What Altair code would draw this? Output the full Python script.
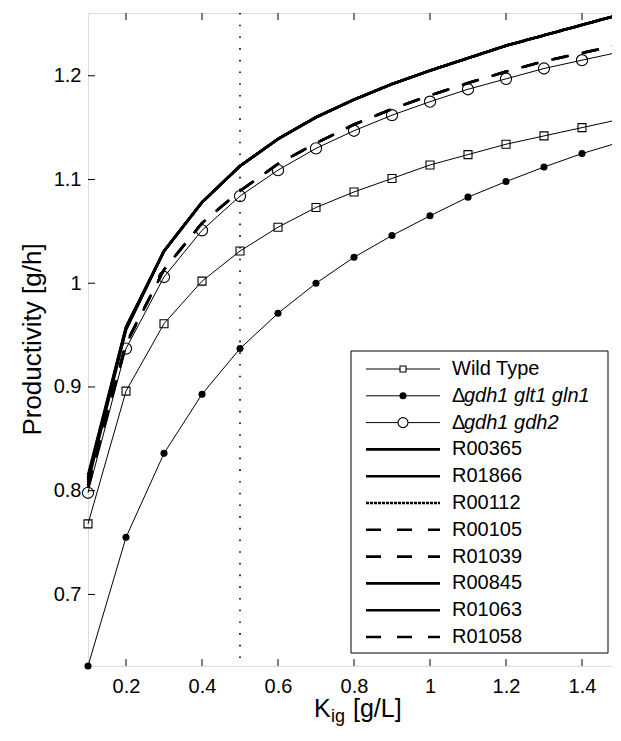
import altair as alt
import pandas as pd

# ---------------- data ----------------
k_ig = [0.1, 0.2, 0.3, 0.4, 0.5, 0.6, 0.7, 0.8, 0.9, 1.0, 1.1, 1.2, 1.3, 1.4, 1.5]

wild_type = [0.768, 0.896, 0.961, 1.002, 1.031, 1.054, 1.073, 1.088, 1.101, 1.114, 1.124, 1.134, 1.142, 1.150, 1.158]
d_gdh1_glt1_gln1 = [0.631, 0.755, 0.836, 0.893, 0.937, 0.971, 1.000, 1.025, 1.046, 1.065, 1.083, 1.098, 1.112, 1.125, 1.136]
d_gdh1_gdh2 = [0.798, 0.937, 1.006, 1.051, 1.084, 1.109, 1.130, 1.147, 1.162, 1.175, 1.187, 1.197, 1.207, 1.215, 1.223]

r00365 = [0.812, 0.957, 1.031, 1.078, 1.113, 1.139, 1.160, 1.177, 1.192, 1.205, 1.217, 1.229, 1.239, 1.249, 1.259]
r01866 = [0.815, 0.958, 1.031, 1.078, 1.113, 1.139, 1.160, 1.177, 1.192, 1.205, 1.217, 1.229, 1.239, 1.249, 1.259]
r00112 = [0.810, 0.956, 1.031, 1.078, 1.113, 1.139, 1.160, 1.177, 1.192, 1.205, 1.217, 1.229, 1.239, 1.249, 1.259]
r00105 = [0.805, 0.942, 1.013, 1.058, 1.089, 1.115, 1.135, 1.153, 1.168, 1.181, 1.193, 1.204, 1.214, 1.222, 1.230]
r01039 = [0.803, 0.941, 1.013, 1.058, 1.089, 1.115, 1.135, 1.153, 1.168, 1.181, 1.193, 1.204, 1.214, 1.222, 1.230]
r00845 = [0.808, 0.955, 1.031, 1.078, 1.113, 1.139, 1.160, 1.177, 1.192, 1.205, 1.217, 1.229, 1.239, 1.249, 1.259]
r01063 = [0.812, 0.957, 1.031, 1.078, 1.113, 1.139, 1.160, 1.177, 1.192, 1.205, 1.217, 1.229, 1.239, 1.249, 1.259]
r01058 = [0.806, 0.942, 1.013, 1.058, 1.089, 1.115, 1.135, 1.153, 1.168, 1.181, 1.193, 1.204, 1.214, 1.222, 1.230]

series_names = ["Wild Type", "\u0394gdh1 glt1 gln1", "\u0394gdh1 gdh2",
                "R00365", "R01866", "R00112", "R00105", "R01039", "R00845", "R01063", "R01058"]
series_values = [wild_type, d_gdh1_glt1_gln1, d_gdh1_gdh2,
                 r00365, r01866, r00112, r00105, r01039, r00845, r01063, r01058]

x_ticks = [0.2, 0.4, 0.6, 0.8, 1.0, 1.2, 1.4]
y_ticks = [0.7, 0.8, 0.9, 1.0, 1.1, 1.2]
reference_k = [0.5]

x_domain = [0.1, 1.5]
y_domain = [0.631, 1.2605]

# ---------------- tables ----------------
rows = []
for name, vals in zip(series_names, series_values):
    for k, p in zip(k_ig, vals):
        rows.append({"series": name, "k": k, "p": p})
df = pd.DataFrame(rows)

legend_df = pd.DataFrame({"label": series_names, "idx": list(range(len(series_names)))})
xt_df = pd.DataFrame({"v": x_ticks})
yt_df = pd.DataFrame({"v": y_ticks})
ref_df = pd.DataFrame({"v": reference_k})

W, H = 532, 653
FONT = "Liberation Sans"
marker_series = series_names[:3]
r_series = series_names[3:]
SOLID = [1, 0]
DASH = [15, 16]
dash_range = [SOLID, SOLID, [3, 1], DASH, DASH, SOLID, SOLID, DASH]

xs = alt.Scale(domain=x_domain, nice=False, zero=False)
ys = alt.Scale(domain=y_domain, nice=False, zero=False)
dash_scale = alt.Scale(domain=r_series, range=dash_range)

X = alt.X("k:Q", scale=xs, axis=alt.Axis(values=x_ticks, format="~g", ticks=False, domain=False,
                                          grid=False, labelFontSize=20, labelFont=FONT, labelColor="black",
                                          labelPadding=10, title=None))
Y = alt.Y("p:Q", scale=ys, axis=alt.Axis(values=y_ticks, format="~g", ticks=False, domain=False,
                                          grid=False, labelFontSize=20, labelFont=FONT, labelColor="black",
                                          labelPadding=7, title=None))

base = alt.Chart(df)

ref_line = alt.Chart(ref_df).mark_rule(color="black", strokeWidth=1.6, strokeDash=[1.6, 10.1]).encode(
    x=alt.X("v:Q", scale=xs), y=alt.value(0), y2=alt.value(H))

thin_lines = base.transform_filter(
    alt.FieldOneOfPredicate(field="series", oneOf=marker_series)
).mark_line(color="black", strokeWidth=1).encode(x=X, y=Y, detail="series:N", order="k:Q")

thick_lines = base.transform_filter(
    alt.FieldOneOfPredicate(field="series", oneOf=r_series)
).mark_line(color="black", strokeWidth=2.6).encode(
    x=X, y=Y, detail="series:N", order="k:Q",
    strokeDash=alt.StrokeDash("series:N", scale=dash_scale, legend=None))

squares = base.transform_filter(alt.datum.series == series_names[0]).mark_point(
    shape="square", size=64, color="black", filled=False, strokeWidth=1.1, opacity=1).encode(x=X, y=Y)
dots = base.transform_filter(alt.datum.series == series_names[1]).mark_point(
    shape="circle", size=50, color="black", filled=True, opacity=1).encode(x=X, y=Y)
circles = base.transform_filter(alt.datum.series == series_names[2]).mark_point(
    shape="circle", size=125, color="black", filled=False, strokeWidth=1.1, opacity=1).encode(x=X, y=Y)

# inward ticks (box style)
TL = 7
xt_bottom = alt.Chart(xt_df).mark_rule(color="black").encode(
    x=alt.X("v:Q", scale=xs), y=alt.value(H), y2=alt.value(H - TL))
xt_top = alt.Chart(xt_df).mark_rule(color="black").encode(
    x=alt.X("v:Q", scale=xs), y=alt.value(0), y2=alt.value(TL))
yt_left = alt.Chart(yt_df).mark_rule(color="black").encode(
    y=alt.Y("v:Q", scale=ys), x=alt.value(0), x2=alt.value(TL))
yt_right = alt.Chart(yt_df).mark_rule(color="black").encode(
    y=alt.Y("v:Q", scale=ys), x=alt.value(W), x2=alt.value(W - TL))

# legend
LX0, LX1, LY0, LY1 = 263, 520, 338, 640
ROW0, ROWH = 356, 26.8
leg = alt.Chart(legend_df).transform_calculate(ly=f"{ROW0} + {ROWH} * datum.idx")
leg_box = alt.Chart(legend_df).transform_filter(alt.datum.idx == 0).mark_rect(
    fill="white", stroke="black", strokeWidth=1).encode(
    x=alt.value(LX0), x2=alt.value(LX1), y=alt.value(LY0), y2=alt.value(LY1))
leg_thin = leg.transform_filter(alt.datum.idx < 3).mark_rule(color="black", strokeWidth=1).encode(
    x=alt.value(278), x2=alt.value(352), y=alt.Y("ly:Q", scale=None))
leg_thick = leg.transform_filter(alt.datum.idx >= 3).mark_rule(color="black", strokeWidth=2.6).encode(
    x=alt.value(278), x2=alt.value(352), y=alt.Y("ly:Q", scale=None),
    strokeDash=alt.StrokeDash("label:N", scale=dash_scale, legend=None))
leg_sq = leg.transform_filter(alt.datum.idx == 0).mark_point(
    shape="square", size=36, color="black", filled=False, strokeWidth=1.1, opacity=1, fill="white").encode(
    x=alt.value(315), y=alt.Y("ly:Q", scale=None))
leg_dot = leg.transform_filter(alt.datum.idx == 1).mark_point(
    shape="circle", size=50, color="black", filled=True, opacity=1).encode(
    x=alt.value(315), y=alt.Y("ly:Q", scale=None))
leg_circ = leg.transform_filter(alt.datum.idx == 2).mark_point(
    shape="circle", size=100, color="black", filled=False, strokeWidth=1.1, opacity=1, fill="white").encode(
    x=alt.value(315), y=alt.Y("ly:Q", scale=None))
leg_text = leg.transform_filter((alt.datum.idx == 0) | (alt.datum.idx >= 3)).mark_text(
    align="left", baseline="middle", fontSize=20, font=FONT, color="black").encode(
    x=alt.value(364), y=alt.Y("ly:Q", scale=None), text="label:N")
leg_delta = leg.transform_filter((alt.datum.idx == 1) | (alt.datum.idx == 2)).transform_calculate(
    d="substring(datum.label, 0, 1)").mark_text(
    align="left", baseline="middle", fontSize=20, font=FONT, color="black").encode(
    x=alt.value(364), y=alt.Y("ly:Q", scale=None), text="d:N")
leg_ital = leg.transform_filter((alt.datum.idx == 1) | (alt.datum.idx == 2)).transform_calculate(
    t="substring(datum.label, 1)").mark_text(
    align="left", baseline="middle", fontSize=20, font=FONT, fontStyle="italic", color="black").encode(
    x=alt.value(376), y=alt.Y("ly:Q", scale=None), text="t:N")

# axis titles
ytitle = alt.Chart(pd.DataFrame({"t": ["Productivity [g/h]"]})).mark_text(
    angle=270, align="center", baseline="middle", fontSize=26, font=FONT, color="black").encode(
    x=alt.value(-55), y=alt.value(H / 2), text="t:N")
xt_main = pd.DataFrame({"a": ["K"], "b": ["ig"], "c": ["[g/L]"]})
xtitle_k = alt.Chart(xt_main).mark_text(align="left", baseline="alphabetic", fontSize=25, font=FONT,
                                        color="black").encode(x=alt.value(226), y=alt.value(704), text="a:N")
xtitle_ig = alt.Chart(xt_main).mark_text(align="left", baseline="alphabetic", fontSize=18, font=FONT,
                                         color="black").encode(x=alt.value(243), y=alt.value(709), text="b:N")
xtitle_c = alt.Chart(xt_main).mark_text(align="left", baseline="alphabetic", fontSize=25, font=FONT,
                                        color="black").encode(x=alt.value(265), y=alt.value(704), text="c:N")

chart = alt.layer(
    ref_line, thin_lines, thick_lines, squares, dots, circles,
    xt_bottom, xt_top, yt_left, yt_right,
    leg_box, leg_thin, leg_thick, leg_sq, leg_dot, leg_circ, leg_text, leg_delta, leg_ital,
    ytitle, xtitle_k, xtitle_ig, xtitle_c,
).properties(
    width=W, height=H,
    autosize=alt.AutoSizeParams(type="none"),
    padding={"left": 80, "top": 5, "right": -8, "bottom": 62},
).configure_view(stroke="black", strokeWidth=1).configure(background="white")

chart.save("out.html", embed_options={"renderer": "svg", "actions": False})
